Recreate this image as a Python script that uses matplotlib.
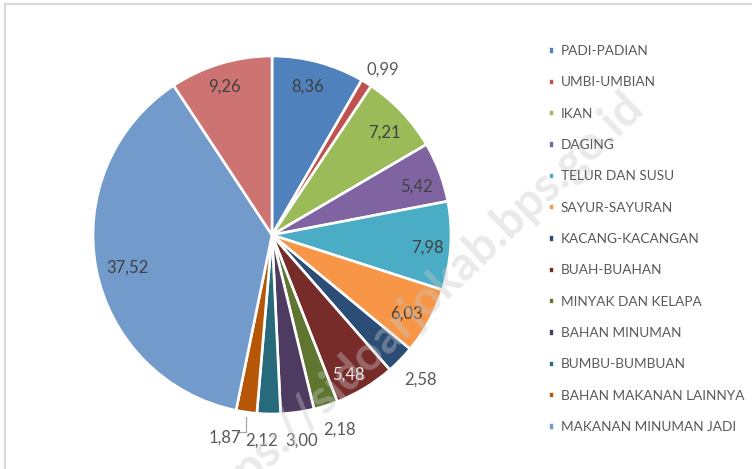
import numpy as np
import matplotlib.pyplot as plt
from matplotlib.lines import Line2D

plt.rcParams['font.family'] = ['Lato', 'DejaVu Sans']

# data (persen)
kategori = ['PADI-PADIAN', 'UMBI-UMBIAN', 'IKAN', 'DAGING', 'TELUR DAN SUSU',
            'SAYUR-SAYURAN', 'KACANG-KACANGAN', 'BUAH-BUAHAN', 'MINYAK DAN KELAPA',
            'BAHAN MINUMAN', 'BUMBU-BUMBUAN', 'BAHAN MAKANAN LAINNYA',
            'MAKANAN MINUMAN JADI', 'ROKOK DAN TEMBAKAU']
nilai = [8.36, 0.99, 7.21, 5.42, 7.98, 6.03, 2.58, 5.48, 2.18, 3.00, 2.12, 1.87, 37.52, 9.26]
warna = ['#4F81BD', '#C0504D', '#9BBB59', '#8064A2', '#4BACC6', '#F79646',
         '#2C4D75', '#772C2A', '#5F7530', '#4D3B62', '#276A7C', '#B65708',
         '#729ACA', '#CD7371']

# posisi label: jarak dari pusat dan geser sudut
label_r = [0.85, 1.11, 0.85, 0.85, 0.87, 0.87, 1.16, 0.89, 1.15, 1.16, 1.15, 1.16, 0.83, 0.87]
label_geser = [1.5, -2, -1, -2, -1, -1.5, 0, -2.5, 1.5, 0, -1.8, -5, 2, 1]
label_warna = ['#404040'] * 14
label_warna[7] = '#f2f2f2'
for i in [1, 6, 8, 9, 10, 11]:
    label_warna[i] = '#595959'

fig = plt.figure(figsize=(7.52, 4.69), dpi=100)
ax = fig.add_axes([93 / 752, 55 / 469, 358 / 752, 358 / 469])

wedges, _ = ax.pie(nilai, colors=warna, startangle=90, counterclock=False,
                   wedgeprops=dict(edgecolor='white', linewidth=1.9))
ax.set_xlim(-1, 1)
ax.set_ylim(-1, 1)

total = sum(nilai)
kum = np.cumsum([0] + nilai)
for i, v in enumerate(nilai):
    tengah = 90 - 360 * (kum[i] + v / 2) / total + label_geser[i]
    a = np.deg2rad(tengah)
    x = label_r[i] * np.cos(a)
    y = label_r[i] * np.sin(a)
    ax.text(x, y, f'{v:.2f}'.replace('.', ','), ha='center', va='center',
            fontsize=12, color=label_warna[i])

# garis penunjuk untuk 1,87
i = 11
a = np.deg2rad(90 - 360 * (kum[i] + nilai[i] / 2) / total)
x0, y0 = 1.03 * np.cos(a), 1.03 * np.sin(a)
ax.plot([x0, x0, x0 - 0.05], [y0, -1.10, -1.10], color='#a6a6a6', lw=0.9, clip_on=False)

fig.legend(wedges[:13], kategori[:13], loc='upper left',
           bbox_to_anchor=(548 / 752, 1 - 45 / 469), frameon=False,
           fontsize=9.8, handlelength=0.45, handleheight=0.45, handletextpad=0.5,
           labelspacing=1.42, borderpad=0, borderaxespad=0, labelcolor='#595959')

# watermark
fig.text(636 / 752, 1 - 100 / 469, 'https://sidoarjokab.bps.go.id', fontsize=34,
         fontweight='bold', color='#c8c8c8', alpha=0.38, rotation=43.5,
         rotation_mode='anchor', ha='right', va='center')

# bingkai
fig.add_artist(Line2D([5 / 752, 1], [1 - 4 / 469, 1 - 4 / 469], color='#d9d9d9', lw=1.5))
fig.add_artist(Line2D([5 / 752, 5 / 752], [0, 1 - 4 / 469], color='#d9d9d9', lw=1.5))

fig.savefig('out.png', dpi=100)
